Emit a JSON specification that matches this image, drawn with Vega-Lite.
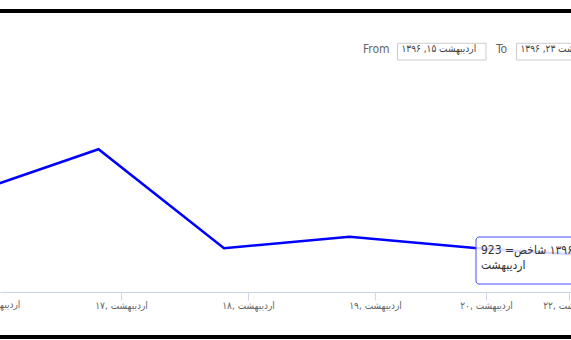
{
  "$schema": "https://vega.github.io/schema/vega-lite/v6.json",
  "width": 571,
  "height": 220,
  "autosize": {"type": "none"},
  "padding": {"left": 0, "right": 0, "top": 72, "bottom": 48},
  "background": "white",
  "view": {"stroke": null},
  "config": {"font": "DejaVu Sans Condensed, DejaVu Sans"},
  "datasets": {
    "index": [
      {"date": "۱۶ اردیبهشت ۱۳۹۶", "session": 0, "value": 933.1},
      {"date": "۱۷ اردیبهشت ۱۳۹۶", "session": 1, "value": 940.95},
      {"date": "۱۸ اردیبهشت ۱۳۹۶", "session": 2, "value": 922.95},
      {"date": "۱۹ اردیبهشت ۱۳۹۶", "session": 3, "value": 925.05},
      {"date": "۲۰ اردیبهشت ۱۳۹۶", "session": 4, "value": 923},
      {"date": "۲۳ اردیبهشت ۱۳۹۶", "session": 5, "value": 921.5}
    ],
    "hover": [
      {"session": 4, "value": 923, "tip": "‏۲۰, ۱۳۹۶ شاخص= 923\nاردیبهشت"}
    ],
    "range": [
      {"from": "اردیبهشت ۱۵, ۱۳۹۶", "to": "اردیبهشت ۲۳, ۱۳۹۶", "firstTick": "۱۶, اردیبهشت"}
    ]
  },
  "layer": [
    {
      "data": {"name": "range"},
      "mark": {"type": "rule", "color": "#000000", "strokeWidth": 4},
      "encoding": {"y": {"datum": 966.1, "axis": null}}
    },
    {
      "data": {"name": "range"},
      "mark": {"type": "rule", "color": "#000000", "strokeWidth": 4},
      "encoding": {"y": {"datum": 906.8, "axis": null}}
    },
    {
      "data": {"name": "index"},
      "mark": {"type": "line", "color": "#0000ff", "strokeWidth": 2.5, "clip": true},
      "encoding": {
        "x": {
          "field": "session",
          "type": "quantitative",
          "scale": {"domain": [0.215, 4.765], "nice": false, "zero": false},
          "axis": {
            "title": null,
            "grid": false,
            "values": [1.1793, 2.1912, 3.2032, 4.0876, 4.749],
            "labelExpr": "datum.value < 1.5 ? '۱۷, اردیبهشت' : datum.value < 2.5 ? '۱۸, اردیبهشت' : datum.value < 3.5 ? '۱۹, اردیبهشت' : datum.value < 4.5 ? '۲۰, اردیبهشت' : '۲۲, اردیبهشت'",
            "labelFlush": false,
            "labelOverlap": false,
            "labelFontSize": 10,
            "labelColor": "#666666",
            "labelPadding": 0,
            "tickSize": 8,
            "tickColor": "#ccd6eb",
            "domainColor": "#ccd6eb",
            "domainWidth": 1
          }
        },
        "y": {
          "field": "value",
          "type": "quantitative",
          "scale": {"domain": [915, 955], "nice": false, "zero": false},
          "axis": {
            "title": null,
            "values": [915, 925, 935, 945, 955],
            "grid": true,
            "gridColor": "#e6e6e6",
            "gridWidth": 1,
            "labels": false,
            "ticks": false,
            "domain": false
          }
        }
      }
    },
    {
      "data": {"name": "range"},
      "mark": {"type": "text", "align": "center", "baseline": "top", "dy": 8, "fontSize": 10, "color": "#666666"},
      "encoding": {"x": {"datum": 0.1673}, "y": {"datum": 915}, "text": {"field": "firstTick", "type": "nominal"}}
    },
    {
      "data": {"name": "range"},
      "mark": {"type": "rect", "fill": "#ffffff", "fillOpacity": 0.85, "stroke": "#4a4aff", "strokeWidth": 1, "cornerRadius": 3},
      "encoding": {
        "x": {"datum": 4.008},
        "x2": {"datum": 5.3},
        "y": {"datum": 925},
        "y2": {"datum": 916.45}
      }
    },
    {
      "data": {"name": "hover"},
      "mark": {"type": "text", "align": "left", "baseline": "alphabetic", "dx": 6, "dy": 6, "fontSize": 12, "lineHeight": 15, "lineBreak": "\n", "color": "#333333"},
      "encoding": {
        "x": {"field": "session", "type": "quantitative"},
        "y": {"field": "value", "type": "quantitative"},
        "text": {"field": "tip", "type": "nominal"}
      }
    },
    {
      "data": {"name": "range"},
      "mark": {"type": "text", "align": "left", "baseline": "middle", "fontSize": 12, "color": "#666666"},
      "encoding": {"x": {"datum": 3.1076}, "y": {"datum": 959.18}, "text": {"value": "From"}}
    },
    {
      "data": {"name": "range"},
      "mark": {"type": "rect", "fill": "#ffffff", "stroke": "#cccccc", "strokeWidth": 1},
      "encoding": {"x": {"datum": 3.3825}, "x2": {"datum": 4.0876}, "y": {"datum": 960.22}, "y2": {"datum": 957.18}}
    },
    {
      "data": {"name": "range"},
      "mark": {"type": "text", "align": "left", "baseline": "middle", "fontSize": 10, "color": "#444444"},
      "encoding": {"x": {"datum": 3.4143}, "y": {"datum": 959.18}, "text": {"field": "from", "type": "nominal"}}
    },
    {
      "data": {"name": "range"},
      "mark": {"type": "text", "align": "left", "baseline": "middle", "fontSize": 12, "color": "#666666"},
      "encoding": {"x": {"datum": 4.1673}, "y": {"datum": 959.18}, "text": {"value": "To"}}
    },
    {
      "data": {"name": "range"},
      "mark": {"type": "rect", "fill": "#ffffff", "stroke": "#cccccc", "strokeWidth": 1},
      "encoding": {"x": {"datum": 4.3307}, "x2": {"datum": 5.3}, "y": {"datum": 960.22}, "y2": {"datum": 957.18}}
    },
    {
      "data": {"name": "range"},
      "mark": {"type": "text", "align": "left", "baseline": "middle", "fontSize": 10, "color": "#444444"},
      "encoding": {"x": {"datum": 4.3625}, "y": {"datum": 959.18}, "text": {"field": "to", "type": "nominal"}}
    }
  ]
}
